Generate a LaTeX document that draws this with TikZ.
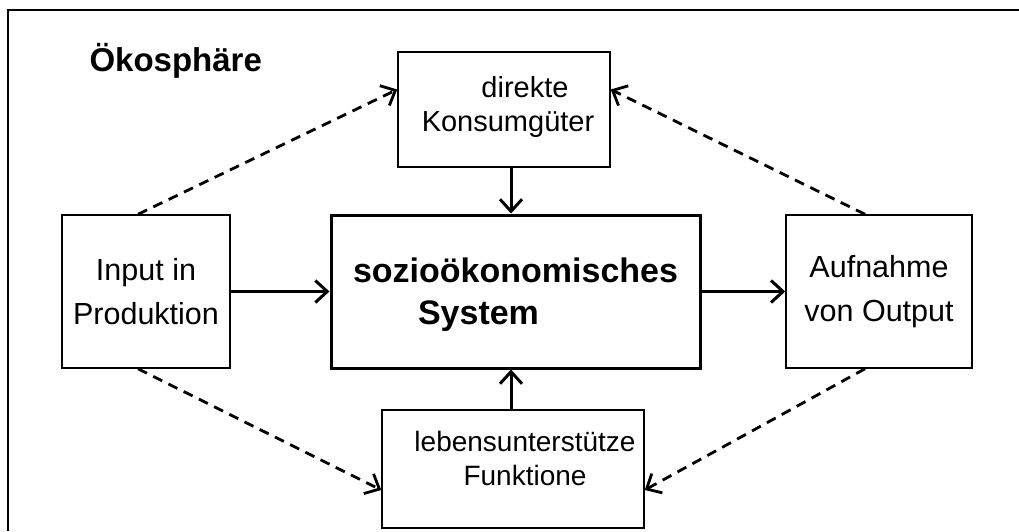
\documentclass[tikz,border=0pt]{standalone}
\usepackage{fontspec}
\setmainfont{Liberation Sans}
\usetikzlibrary{arrows.meta,positioning}

\begin{document}
\begin{tikzpicture}[x=1pt,y=-1pt,>={Straight Barb[length=12pt,width=22pt]},
	box/.style={draw,line width=1.5pt,inner sep=0pt},
	sysbox/.style={draw,line width=3pt,inner sep=0pt},
	txt/.style={align=center,font=\fontsize{30.5}{44}\selectfont},
	txtnarrow/.style={align=center,font=\fontsize{29}{34}\selectfont},
	flow/.style={->,line width=3pt},
	loose/.style={->,line width=2.8pt,dash pattern=on 10pt off 7pt}]
	\useasboundingbox (0,0) rectangle (1019,531);
	\draw[line width=2.5pt] (8,531) |- (1019,10);

	\node[box,minimum width=168pt,minimum height=153pt] (input) at (146,291.5) {};
	\node[box,minimum width=186pt,minimum height=153pt] (output) at (879,291.5) {};
	\node[sysbox,minimum width=369pt,minimum height=153pt] (system) at (515.5,291.5) {};
	\node[box,minimum width=212pt,minimum height=115pt] (konsum) at (504,109.5) {};
	\node[box,minimum width=262pt,minimum height=118pt] (leben) at (513,469) {};

	\node[font=\fontsize{33}{36}\selectfont\bfseries,anchor=base west] (oeko) at (86,71) {Ökosphäre};
	\node[txt] (inputtxt) at (input.center) {Input in\\Produktion};
	\node[txt] (outputtxt) at (output.center) {Aufnahme\\von Output};
	\node[txt,font=\fontsize{34}{42}\selectfont\bfseries] (systemtxt) at ([yshift=-3pt]system.center) {sozioökonomisches\\System\hspace*{74pt}};
	\node[txtnarrow] (konsumtxt) at ([xshift=4pt,yshift=3pt]konsum.center) {\hspace*{34pt}direkte\\Konsumgüter};
	\node[txtnarrow,font=\fontsize{28}{34}\selectfont] (lebentxt) at ([xshift=12pt,yshift=11pt]leben.center) {lebensunterstütze\\Funktione};

	\draw[flow] (input) -- (system);
	\draw[flow] (system) -- (output);
	\draw[flow] (konsum.south -| system.center) ++(-4.5pt,0) coordinate (kd) -- (kd |- system.north);
	\draw[flow] (leben.north -| kd) -- (system.south -| kd);

	\draw[loose] ([xshift=-8pt]input.north) -- ([yshift=20pt]konsum.west);
	\draw[loose] ([xshift=-14pt]output.north) -- ([yshift=20pt]konsum.east);
	\draw[loose] ([xshift=-8pt]input.south) -- ([yshift=-21pt]leben.west);
	\draw[loose] ([xshift=-14pt]output.south) -- ([yshift=-21pt]leben.east);
\end{tikzpicture}
\end{document}
